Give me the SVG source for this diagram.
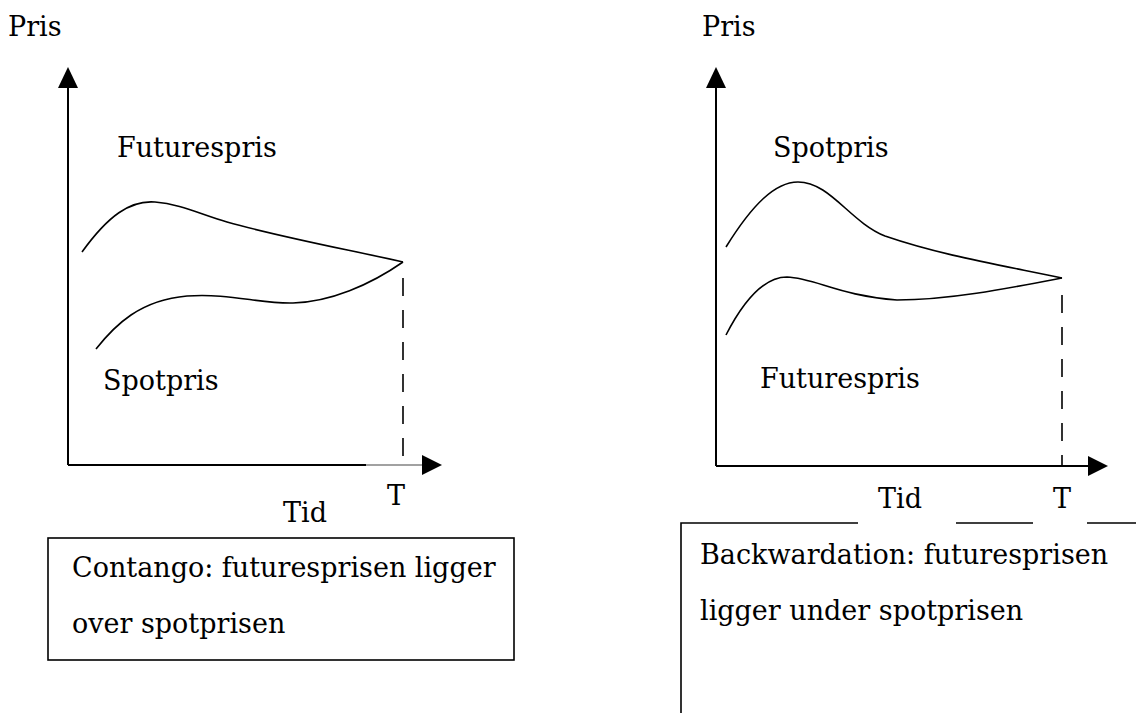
<svg xmlns="http://www.w3.org/2000/svg" width="1136" height="713" viewBox="0 0 1136 713">
<style>
text{font-family:"DejaVu Serif","Liberation Serif",serif;font-size:27px;fill:#000}
.ax{stroke:#000;stroke-width:2;fill:none}
.cv{stroke:#000;stroke-width:1.6;fill:none}
.dash{stroke:#000;stroke-width:1.6;fill:none;stroke-dasharray:18 14}
.box{stroke:#000;stroke-width:1.6;fill:none}
</style>
<defs>
<polygon id="up" points="0,0 -10,21 10,21" fill="#000"/>
<polygon id="right" points="0,0 -20,-10 -20,10" fill="#000"/>
</defs>
<rect width="1136" height="713" fill="#fff"/>
<g id="connectors">
<line class="ax" x1="68" y1="80" x2="68" y2="465"/>
<line class="ax" x1="68" y1="465" x2="366" y2="465"/>
<line stroke="#444" stroke-width="1.2" x1="366" y1="465" x2="430" y2="465"/>
<use href="#up" x="68" y="67"/>
<use href="#right" x="442" y="465"/>
<path class="cv" d="M82,252 C108,216 130,200 155,202 C180,204 200,214 227,222 C280,237 350,250 403,262"/>
<path class="cv" d="M96,349 C115,325 140,300 187,296 C230,293 260,304 293,303 C330,302 370,285 403,262"/>
<line class="dash" x1="403" y1="278" x2="403" y2="465"/>
<line class="ax" x1="716" y1="80" x2="716" y2="466"/>
<line class="ax" x1="716" y1="466" x2="1095" y2="466"/>
<use href="#up" x="716" y="67"/>
<use href="#right" x="1108" y="466"/>
<path class="cv" d="M726,247 C752,205 775,182 798,182 C830,182 850,222 885,236 C940,255 1000,265 1062,278"/>
<path class="cv" d="M726,335 C745,298 765,277 787,277 C815,278 840,296 897,300 C950,300 1010,288 1062,278"/>
<line class="dash" x1="1062" y1="295" x2="1062" y2="466"/>
</g>
<g id="left-labels">
<text x="8" y="36">Pris</text>
<text x="117" y="157">Futurespris</text>
<text x="103" y="390">Spotpris</text>
<text x="283" y="522">Tid</text>
<text x="387" y="505">T</text>
</g>
<g id="right-labels">
<text x="702" y="36">Pris</text>
<text x="773" y="157">Spotpris</text>
<text x="760" y="388">Futurespris</text>
<text x="878" y="508">Tid</text>
<text x="1053" y="508">T</text>
</g>
<g id="contango-box">
<rect class="box" x="48" y="538" width="466" height="122"/>
<text x="72" y="577">Contango: futuresprisen ligger</text>
<text x="72" y="633">over spotprisen</text>
</g>
<g id="backwardation-box">
<path class="box" d="M681,713 V523 H858 M956,523 H1033 M1087,523 H1136"/>
<text x="700" y="564">Backwardation: futuresprisen</text>
<text x="700" y="620">ligger under spotprisen</text>
</g>
</svg>
